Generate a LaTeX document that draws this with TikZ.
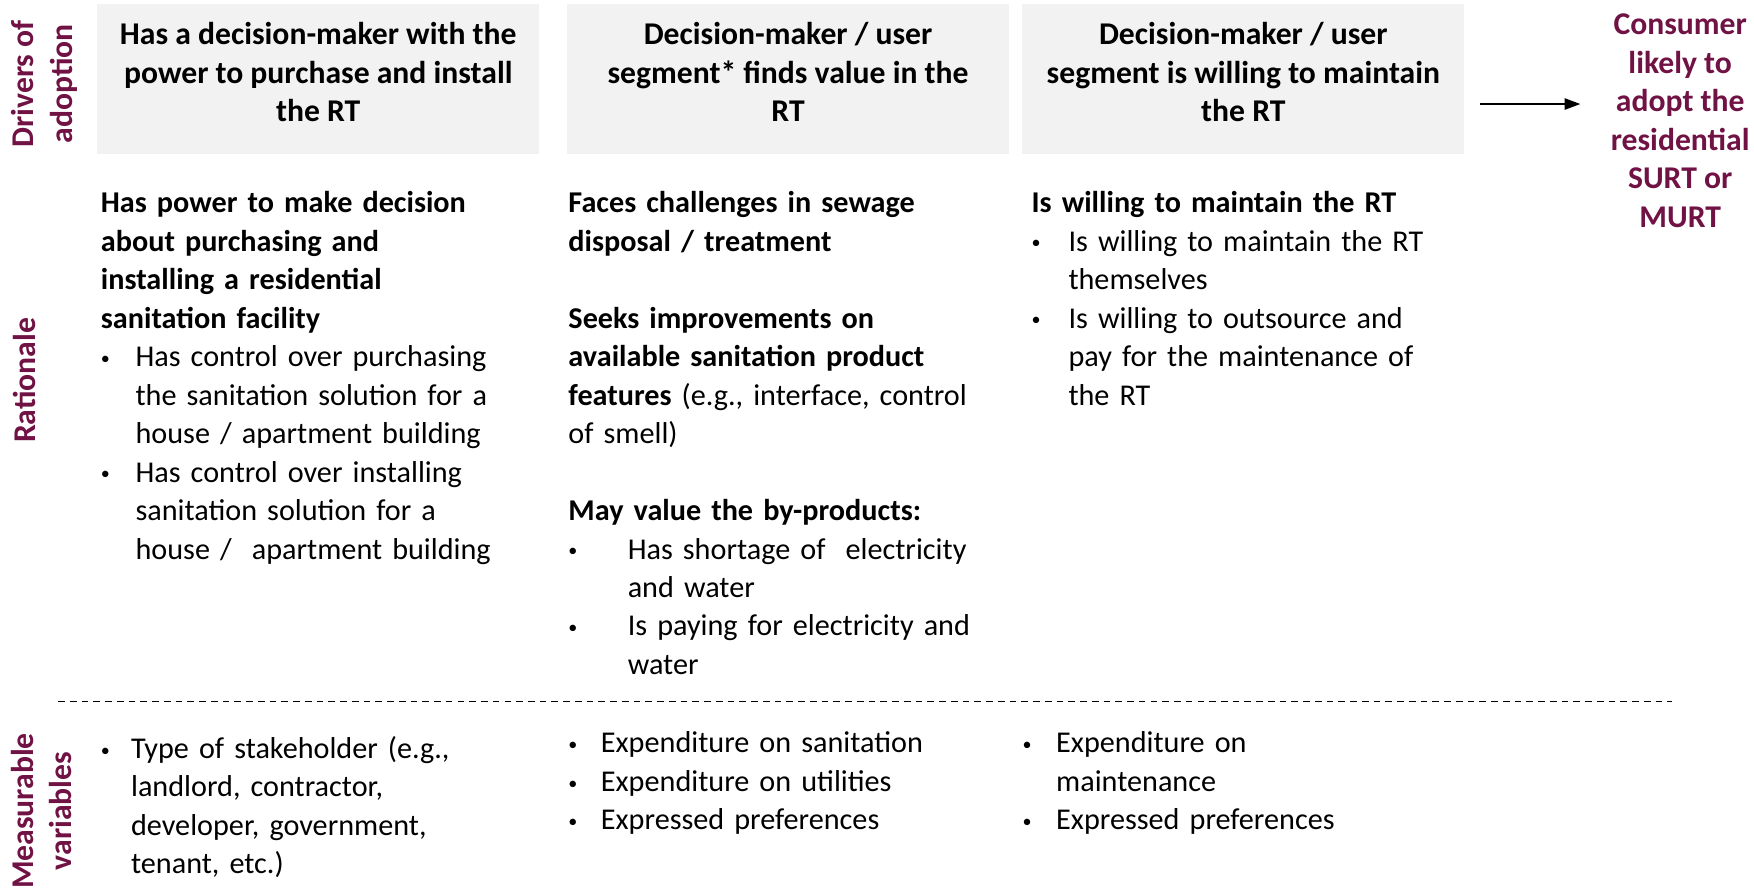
\documentclass[tikz,border=0pt]{standalone}
\usepackage{fontspec}
\setmainfont{Carlito}
\usetikzlibrary{arrows.meta}

\definecolor{wine}{RGB}{112,18,68}
\definecolor{hdrgrey}{RGB}{242,242,242}

% bullet paragraph with hanging indent
\newcommand{\bitem}[2]{\noindent\hangindent=#1\hangafter=1\makebox[#1][l]{\raisebox{2pt}{\scalebox{0.6}{\textbullet}}}#2\par}

\tikzset{
	bodyfont/.style={font=\fontsize{27}{34.4}\selectfont},
	boldfont/.style={font=\bfseries\fontsize{28.3}{34.4}\selectfont},
	txt/.style={bodyfont, inner sep=0pt, align=left, anchor=north west, text width=#1},
	hdr/.style={boldfont, fill=hdrgrey, minimum width=395pt, minimum height=134pt, align=center, inner sep=0pt, text depth=13pt},
	side/.style={boldfont, text=wine, rotate=90, align=center, inner sep=0pt},
	arr/.style={-{Triangle[length=14pt,width=10pt]}, line width=1.6pt}
}

\begin{document}
\begin{tikzpicture}[x=1pt, y=-1pt]
\useasboundingbox (0,0) rectangle (1568,797);

% ROW LABELS
\node[side] (drivers) at (39.5, 75) {Drivers of\\adoption};
\node[side] (rationale) at (22, 340) {Rationale};
\node[side] (measure) at (37, 725) {Measurable\\variables};

% HEADERS
\node[hdr] (hdrA) at (284.5, 71) {Has a decision-maker with the\\power to purchase and install\\the RT};
\node[hdr] (hdrB) at (704.5, 71) {Decision-maker / user\\segment* finds value in the\\RT};
\node[hdr] (hdrC) at (1111.5, 71) {Decision-maker / user\\segment is willing to maintain\\the RT};

\node[boldfont, text=wine, align=center, inner sep=0pt] (consumer) at (1502, 108)
	{Consumer\\likely to\\adopt the\\residential\\SURT or\\MURT};

% RATIONALE
\node[txt=420pt] (ratA) at (90, 171) {%
	{\bfseries Has power to make decision\newline about purchasing and\newline installing a residential\newline sanitation facility}\par
	\bitem{31pt}{Has control over purchasing\newline the sanitation solution for a\newline house / apartment building}
	\bitem{31pt}{Has control over installing\newline sanitation solution for a\newline house /\ \ apartment building}};

\node[txt=420pt] (ratB) at (508, 171) {%
	{\bfseries Faces challenges in sewage\newline disposal / treatment}\par\vspace{34.4pt}
	{\bfseries Seeks improvements on\newline available sanitation product\newline features} (e.g., interface, control\newline of smell)\par\vspace{34.4pt}
	{\bfseries May value the by-products:}\par
	\bitem{53pt}{Has shortage of\ \ electricity\newline and water}
	\bitem{53pt}{Is paying for electricity and\newline water}};

\node[txt=420pt] (ratC) at (922, 171) {%
	{\bfseries Is willing to maintain the RT}\par
	\bitem{33pt}{Is willing to maintain the RT\newline themselves}
	\bitem{33pt}{Is willing to outsource and\newline pay for the maintenance of\newline the RT}};

% SEPARATOR
\draw[line width=1.1pt, dash pattern=on 6pt off 4.5pt] (52, 627) -- (1495, 627);

% MEASURABLE VARIABLES
\node[txt=420pt] (varA) at (90, 658) {%
	\bitem{27pt}{Type of stakeholder (e.g.,\newline landlord, contractor,\newline developer, government,\newline tenant, etc.)}};

\node[txt=420pt] (varB) at (508, 654) {%
	\bitem{29pt}{Expenditure on sanitation}
	\bitem{29pt}{Expenditure on utilities}
	\bitem{29pt}{Expressed preferences}};

\node[txt=420pt] (varC) at (914, 654) {%
	\bitem{30pt}{Expenditure on\newline maintenance}
	\bitem{30pt}{Expressed preferences}};

% ARROW
\draw[arr] ([xshift=14pt, yshift=-22pt]hdrC.east) -- ([xshift=-27pt, yshift=15pt]consumer.west);

\end{tikzpicture}
\end{document}
